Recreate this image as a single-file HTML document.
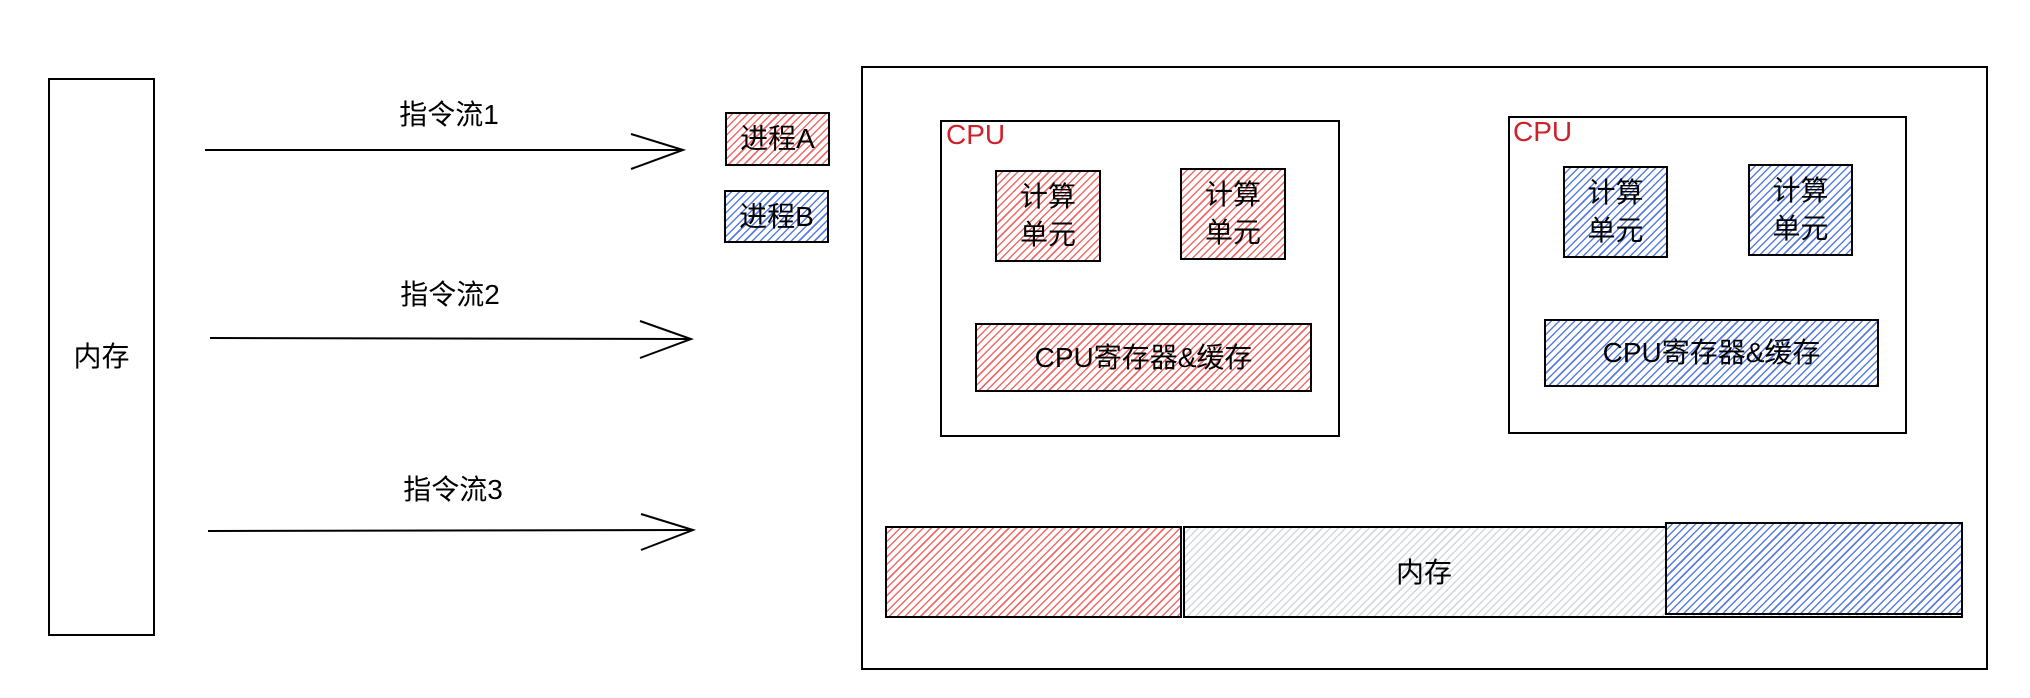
<!DOCTYPE html>
<html><head><meta charset="utf-8"><style>
html,body{margin:0;padding:0;background:#fff;}
body{width:2030px;height:698px;position:relative;overflow:hidden;font-family:"Liberation Sans","Noto Sans CJK SC",sans-serif;color:#000;}
.b{position:absolute;box-sizing:border-box;border:2px solid #000;display:flex;align-items:center;justify-content:center;text-align:center;font-size:28px;line-height:38px;}
.r{background:repeating-linear-gradient(135deg,#fff 0 3px,#f26b6b 3px 4.5px,#fff 4.5px 5.5px);}
.u{background:repeating-linear-gradient(135deg,#fff 0 3px,#5a7de0 3px 4.5px,#fff 4.5px 5.5px);}
.g{background:repeating-linear-gradient(135deg,#fff 0 3px,#d3d8e0 3px 4.5px,#fff 4.5px 5.5px);}
.t{position:absolute;font-size:28px;white-space:nowrap;transform:translate(-50%,-50%);}
.cpu{position:absolute;color:#d0212a;font-size:28px;}
</style></head><body>
<div class="b" style="left:48px;top:78px;width:107px;height:558px;">内存</div>
<svg style="position:absolute;left:0;top:0" width="2030" height="698">
<g stroke="#000" stroke-width="2" fill="none">
<line x1="205" y1="150" x2="683" y2="150"/><polyline points="631,134 683,150 631,169"/>
<line x1="210" y1="338" x2="691" y2="339"/><polyline points="640,321 691,339 640,358"/>
<line x1="208" y1="531" x2="693" y2="530"/><polyline points="641,514 693,530 641,550"/>
</g></svg>
<div class="t" style="left:449px;top:113px;">指令流1</div>
<div class="t" style="left:450px;top:293px;">指令流2</div>
<div class="t" style="left:453px;top:488px;">指令流3</div>
<div class="b r" style="left:725px;top:112px;width:105px;height:54px;">进程A</div>
<div class="b u" style="left:724px;top:190px;width:105px;height:53px;">进程B</div>
<div class="b" style="left:861px;top:66px;width:1127px;height:604px;"></div>
<div class="b" style="left:940px;top:120px;width:400px;height:317px;"></div>
<div class="cpu" style="left:946px;top:119px;">CPU</div>
<div class="b r" style="left:995px;top:170px;width:106px;height:92px;">计算<br>单元</div>
<div class="b r" style="left:1180px;top:168px;width:106px;height:92px;">计算<br>单元</div>
<div class="b r" style="left:975px;top:323px;width:337px;height:69px;">CPU寄存器&amp;缓存</div>
<div class="b" style="left:1508px;top:116px;width:399px;height:318px;"></div>
<div class="cpu" style="left:1513px;top:116px;">CPU</div>
<div class="b u" style="left:1563px;top:166px;width:105px;height:92px;">计算<br>单元</div>
<div class="b u" style="left:1748px;top:164px;width:105px;height:92px;">计算<br>单元</div>
<div class="b u" style="left:1544px;top:319px;width:335px;height:68px;">CPU寄存器&amp;缓存</div>
<div class="b r" style="left:885px;top:526px;width:297px;height:92px;"></div>
<div class="b g" style="left:1183px;top:526px;width:780px;height:92px;"></div>
<div class="t" style="left:1424px;top:571px;">内存</div>
<div class="b u" style="left:1665px;top:522px;width:298px;height:93px;"></div>
</body></html>
